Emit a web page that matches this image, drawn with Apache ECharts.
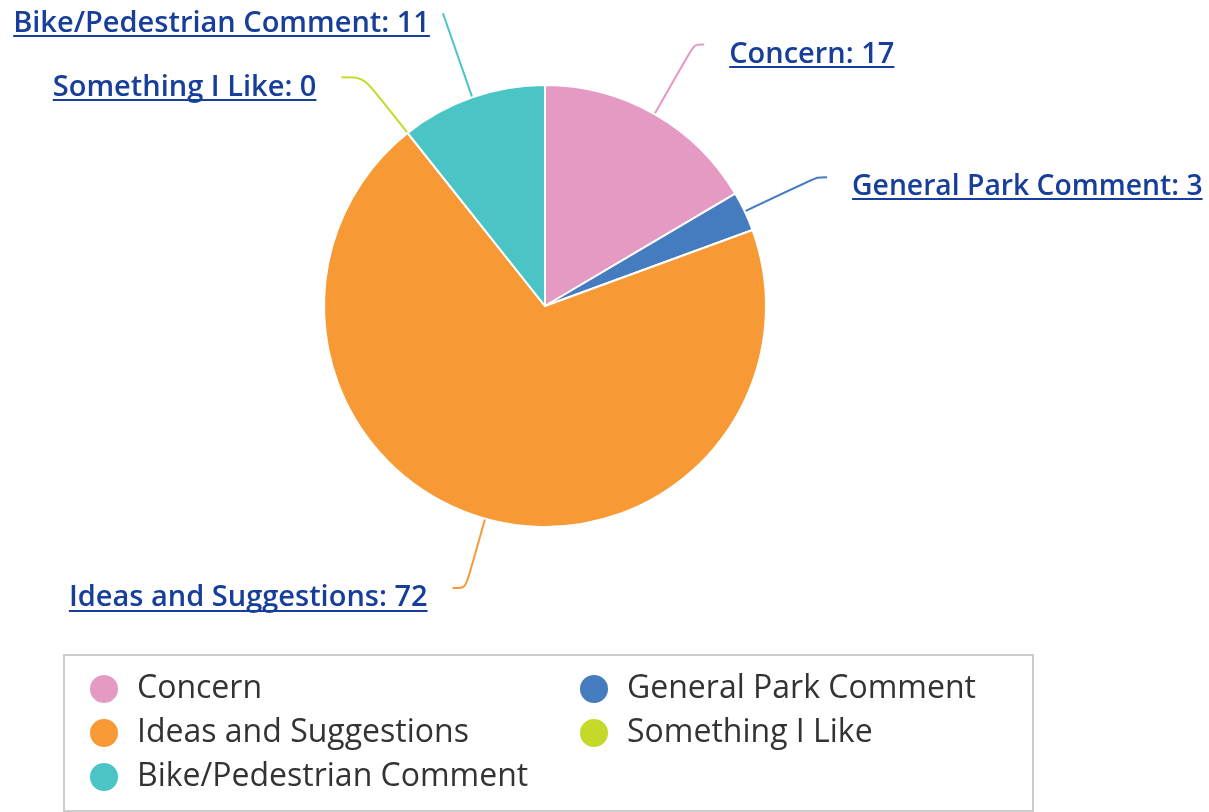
<!DOCTYPE html>
<html>
<head>
<meta charset="utf-8">
<script src="https://cdn.jsdelivr.net/npm/echarts@6/dist/echarts.min.js"></script>
<style>
  html, body { margin: 0; padding: 0; background: #fff; }
  #chart { width: 1209px; height: 812px; }
</style>
</head>
<body>
<div id="chart"></div>
<script>
  // comment categories and counts
  var categories = ['Concern', 'General Park Comment', 'Ideas and Suggestions', 'Something I Like', 'Bike/Pedestrian Comment'];
  var counts = [17, 3, 72, 0, 11];
  var colors = ['#e59ac4', '#457bbf', '#f79a35', '#c5d92a', '#4bc4c6'];

  var labelBlue = '#173e9b';

  // per-slice label line tweaks so the labels sit where the original ones do
  var lineTweaks = {
    'Concern': { length: 80, length2: 10, dist: 25 },
    'General Park Comment': { length: 80, length2: 10, dist: 25, fontSize: 28.3 },
    'Ideas and Suggestions': { length: 72, length2: 13, dist: 25 },
    'Something I Like': { length: 71, length2: 22, dist: 25 },
    'Bike/Pedestrian Comment': { length: 89, length2: 0, dist: 13 }
  };

  var seriesData = [];
  for (var i = 0; i < categories.length; i++) {
    var tw = lineTweaks[categories[i]];
    var item = {
      name: categories[i],
      value: counts[i],
      itemStyle: { color: colors[i] },
      label: { distanceToLabelLine: tw.dist },
      labelLine: { length: tw.length, length2: tw.length2, lineStyle: { color: colors[i] } }
    };
    if (tw.fontSize) {
      item.label.rich = { t: { fontSize: tw.fontSize } };
    }
    seriesData.push(item);
  }

  // legend in two columns: left column items a bit wider (they carry the gap)
  var legendData = categories.map(function (name, idx) {
    return { name: name, textStyle: { width: idx % 2 === 0 ? 431 : 382 } };
  });

  // fake underline: gradient background on the text token, thin band at the bottom
  var underline = new echarts.graphic.LinearGradient(0, 0, 0, 1, [
    { offset: 0, color: 'rgba(0,0,0,0)' },
    { offset: 0.9, color: 'rgba(0,0,0,0)' },
    { offset: 0.9, color: labelBlue },
    { offset: 0.967, color: labelBlue },
    { offset: 0.967, color: 'rgba(0,0,0,0)' },
    { offset: 1, color: 'rgba(0,0,0,0)' }
  ]);

  var chart = echarts.init(document.getElementById('chart'));
  chart.setOption({
    animation: false,
    color: colors,
    legend: {
      left: 64,
      top: 655,
      width: 975,
      padding: [17, 24, 17, 24],
      borderColor: '#cccccc',
      borderWidth: 2,
      icon: 'circle',
      itemWidth: 30,
      itemHeight: 30,
      itemGap: 10,
      orient: 'horizontal',
      data: legendData,
      textStyle: {
        fontFamily: 'Open Sans',
        fontSize: 32,
        color: '#333333',
        lineHeight: 34,
        padding: [0, 0, 0, 13]
      }
    },
    series: [
      {
        type: 'pie',
        center: [545, 306],
        radius: 221,
        startAngle: 90,
        clockwise: true,
        avoidLabelOverlap: false,
        itemStyle: { borderColor: '#ffffff', borderWidth: 2 },
        label: {
          show: true,
          // empty first line pushes the text a bit below the line end
          formatter: '{g| }\n{t|{b}: {c}}',
          overflow: 'none',
          bleedMargin: 0,
          rich: {
            g: { fontSize: 10, lineHeight: 20 },
            t: {
              fontFamily: 'Open Sans',
              fontWeight: 600,
              fontSize: 29,
              lineHeight: 30,
              color: labelBlue,
              backgroundColor: underline
            }
          }
        },
        labelLine: {
          show: true,
          smooth: true,
          lineStyle: { width: 2 }
        },
        data: seriesData
      }
    ]
  });
</script>
</body>
</html>
